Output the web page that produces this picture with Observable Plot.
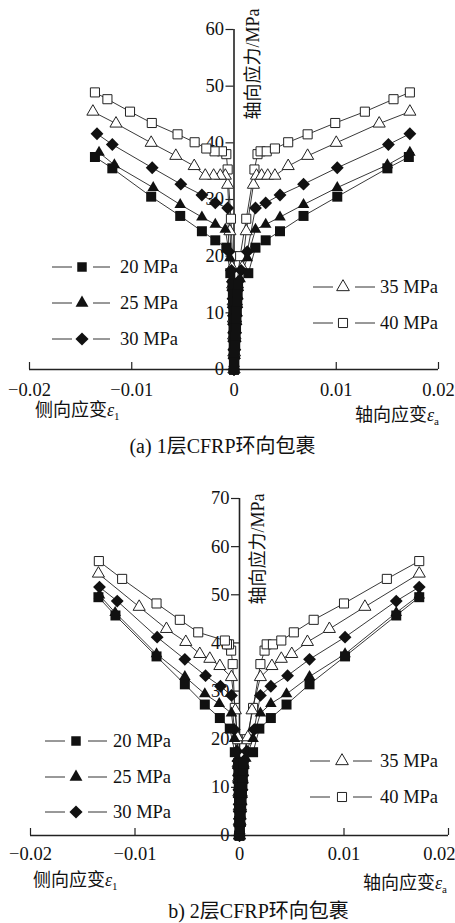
<!DOCTYPE html>
<html>
<head>
<meta charset="utf-8">
<script src="https://cdn.jsdelivr.net/npm/d3@7"></script>
<script src="https://cdn.jsdelivr.net/npm/@observablehq/plot@0.6"></script>
<style>
  html, body { margin: 0; padding: 0; background: #fff; overflow: hidden; }
  #wrap { position: relative; width: 455px; height: 923px; font-family: 'Liberation Serif', 'Noto Sans CJK SC', serif; color: #111; }
  .abs { position: absolute; white-space: nowrap; line-height: 1; }
  .lbl { font-size: 18px; }
  .cap { font-size: 20px; }
  .lbl sub { font-size: 11px; vertical-align: -4px; }
  .eps { font-style: italic; }
  .leg { position: absolute; height: 20px; font-size: 18.5px; line-height: 20px; white-space: nowrap; }
  .leg svg { position: absolute; left: 0; top: 0; }
  .leg span { position: absolute; top: 0; }
</style>
</head>
<body>
<div id="wrap"></div>
<script>
// ---------- data ----------
const seriesNames = ["20 MPa", "25 MPa", "30 MPa", "35 MPa", "40 MPa"];
const xTicks = [-0.02, -0.01, 0, 0.01, 0.02];
const yTicksA = [0, 10, 20, 30, 40, 50, 60];
const yTicksB = [0, 10, 20, 30, 40, 50, 60, 70];

// Panel (a): 1 layer CFRP
const a20_stress = [0, 1.5, 3, 4.5, 6, 7.5, 9, 10.5, 12, 13.5, 15, 17.0, 21.5, 22.8, 24.4, 27.1, 30.5, 35.5, 37.5];
const a20_lat    = [0, -0.00001, -0.00002, -0.00003, -0.00004, -0.00005, -0.00006, -0.00007, -0.00009, -0.00011, -0.00014, -0.00036, -0.00075, -0.00183, -0.00314, -0.00526, -0.0081, -0.0119, -0.0136];
const a20_ax     = [0, 0.00004, 0.00008, 0.00012, 0.00016, 0.0002, 0.00024, 0.00028, 0.00032, 0.00036, 0.0004, 0.0014, 0.0021, 0.0031, 0.0045, 0.0068, 0.0101, 0.015, 0.0171];

const a25_stress = [0, 1, 2.5, 4, 5.5, 7, 8.5, 10, 11.5, 13, 14.5, 16, 19.7, 24.7, 25.6, 26.9, 29.1, 32.1, 36.1, 38.3];
const a25_lat    = [0, -0.00001, -0.00002, -0.00003, -0.00004, -0.00005, -0.00006, -0.00008, -0.0001, -0.00012, -0.00015, -0.0002, -0.0004, -0.00085, -0.00183, -0.00314, -0.00526, -0.0079, -0.0117, -0.0132];
const a25_ax     = [0, 0.00003, 0.00007, 0.00011, 0.00015, 0.00019, 0.00023, 0.00027, 0.00031, 0.00035, 0.0004, 0.0006, 0.0013, 0.0021, 0.0031, 0.0045, 0.0068, 0.0101, 0.015, 0.0172];

const a30_stress = [0, 2, 3.5, 5, 6.5, 8, 9.5, 11, 12.5, 14, 15.5, 17.5, 20.8, 28.5, 29.4, 30.8, 32.7, 35.6, 39.7, 41.6];
const a30_lat    = [0, -0.00001, -0.00002, -0.00003, -0.00004, -0.00005, -0.00006, -0.00008, -0.0001, -0.00012, -0.00015, -0.00025, -0.0005, -0.00062, -0.00183, -0.00314, -0.0052, -0.008, -0.0119, -0.0134];
const a30_ax     = [0, 0.00004, 0.00008, 0.00012, 0.00016, 0.0002, 0.00024, 0.00028, 0.00032, 0.00036, 0.0004, 0.0007, 0.0013, 0.0021, 0.0031, 0.0045, 0.0068, 0.0101, 0.0151, 0.0172];

const a35_stress = [0, 3, 6, 9, 12, 15, 18, 24.4, 32.6, 34.2, 34.2, 34.2, 34.2, 35.9, 37.7, 40.0, 43.4, 45.5];
const a35_lat    = [0, -0.00002, -0.00004, -0.00006, -0.00009, -0.00013, -0.0002, -0.0004, -0.00062, -0.00085, -0.00134, -0.00199, -0.00281, -0.00389, -0.00569, -0.0081, -0.01154, -0.0138];
const a35_ax     = [0, 0.00005, 0.0001, 0.00016, 0.00024, 0.00034, 0.0008, 0.0012, 0.0019, 0.0022, 0.0027, 0.0033, 0.004, 0.0053, 0.0072, 0.01, 0.0142, 0.0172];

const a40_stress = [0, 3, 6, 9, 12, 15, 20, 26.6, 35.3, 38.0, 38.5, 38.5, 39.0, 40.1, 41.5, 43.5, 45.5, 47.7, 48.9];
const a40_lat    = [0, -0.00002, -0.00004, -0.00006, -0.00008, -0.0001, -0.00015, -0.0003, -0.00062, -0.00075, -0.00118, -0.0019, -0.00271, -0.00385, -0.00552, -0.00804, -0.01017, -0.01238, -0.0136];
const a40_ax     = [0, 0.00005, 0.0001, 0.00015, 0.0002, 0.0003, 0.0006, 0.0012, 0.002, 0.0023, 0.0026, 0.0032, 0.004, 0.0053, 0.0072, 0.0099, 0.0128, 0.0156, 0.0172];

// Panel (b): 2 layers CFRP
const b20_stress = [0, 1.5, 3, 4.5, 6, 7.5, 9, 10.5, 12, 13.5, 15, 17.3, 22.2, 24.4, 27.2, 31.4, 37.2, 45.7, 49.5];
const b20_lat    = [0, -0.00001, -0.00002, -0.00003, -0.00004, -0.00005, -0.00006, -0.00007, -0.00009, -0.00011, -0.00014, -0.00045, -0.00093, -0.00188, -0.00332, -0.00523, -0.00794, -0.01187, -0.0135];
const b20_ax     = [0, 0.00004, 0.00008, 0.00012, 0.00016, 0.0002, 0.00024, 0.00028, 0.00032, 0.00036, 0.0004, 0.0013, 0.0019, 0.003, 0.0045, 0.0067, 0.0101, 0.015, 0.0172];

const b25_stress = [0, 1, 2.5, 4, 5.5, 7, 8.5, 10, 11.5, 13, 14.5, 16, 20.1, 25.4, 27.4, 29.4, 33.0, 37.7, 46.3, 49.9];
const b25_lat    = [0, -0.00001, -0.00002, -0.00003, -0.00004, -0.00005, -0.00006, -0.00008, -0.0001, -0.00012, -0.00015, -0.0002, -0.00048, -0.00077, -0.00194, -0.00332, -0.00523, -0.00794, -0.0119, -0.0134];
const b25_ax     = [0, 0.00003, 0.00007, 0.00011, 0.00015, 0.00019, 0.00023, 0.00027, 0.00031, 0.00035, 0.0004, 0.0006, 0.0013, 0.002, 0.003, 0.0045, 0.0067, 0.0101, 0.015, 0.0172];

const b30_stress = [0, 2, 3.5, 5, 6.5, 8, 9.5, 11, 12.5, 14, 15.5, 17.5, 22.0, 29.1, 31.0, 33.2, 36.6, 41.2, 48.7, 51.6];
const b30_lat    = [0, -0.00001, -0.00002, -0.00003, -0.00004, -0.00005, -0.00006, -0.00008, -0.0001, -0.00012, -0.00015, -0.00025, -0.0005, -0.00077, -0.00182, -0.00325, -0.00523, -0.00788, -0.0117, -0.0134];
const b30_ax     = [0, 0.00004, 0.00008, 0.00012, 0.00016, 0.0002, 0.00024, 0.00028, 0.00032, 0.00036, 0.0004, 0.0007, 0.0014, 0.002, 0.003, 0.0046, 0.0067, 0.0101, 0.015, 0.0172];

const b35_stress = [0, 3, 6, 9, 12, 15, 20.4, 26.0, 32.9, 35.2, 36.7, 37.7, 40.2, 42.9, 47.5, 54.4];
const b35_lat    = [0, -0.00002, -0.00004, -0.00006, -0.00009, -0.00013, -0.0002, -0.0004, -0.00077, -0.00188, -0.00284, -0.0038, -0.00514, -0.00699, -0.0096, -0.0135];
const b35_ax     = [0, 0.00005, 0.0001, 0.00016, 0.00024, 0.00034, 0.0008, 0.0012, 0.002, 0.0031, 0.004, 0.005, 0.0065, 0.0086, 0.012, 0.0172];

const b40_stress = [0, 3, 6, 9, 12, 15, 20.0, 26.5, 35.6, 38.4, 39.7, 39.7, 40.5, 42.2, 44.8, 48.2, 53.3, 57.0];
const b40_lat    = [0, -0.00002, -0.00004, -0.00006, -0.00008, -0.0001, -0.0002, -0.00045, -0.00065, -0.0008, -0.001, -0.0012, -0.0014, -0.00395, -0.00571, -0.00794, -0.01123, -0.01346];
const b40_ax     = [0, 0.00005, 0.0001, 0.00015, 0.0002, 0.0003, 0.0007, 0.0013, 0.002, 0.0024, 0.0026, 0.0032, 0.004, 0.0052, 0.0071, 0.01, 0.0141, 0.0172];

// ---------- helpers ----------
function buildRows(list) {
  const out = [];
  for (const [series, stress, lat, ax] of list) {
    for (let i = 0; i < stress.length; i++) out.push({series, branch: "lat", strain: lat[i], stress: stress[i]});
    for (let i = 0; i < stress.length; i++) out.push({series, branch: "ax", strain: ax[i], stress: stress[i]});
  }
  return out;
}
const rowsA = buildRows([
  ["20 MPa", a20_stress, a20_lat, a20_ax], ["25 MPa", a25_stress, a25_lat, a25_ax],
  ["30 MPa", a30_stress, a30_lat, a30_ax], ["35 MPa", a35_stress, a35_lat, a35_ax],
  ["40 MPa", a40_stress, a40_lat, a40_ax]]);
const rowsB = buildRows([
  ["20 MPa", b20_stress, b20_lat, b20_ax], ["25 MPa", b25_stress, b25_lat, b25_ax],
  ["30 MPa", b30_stress, b30_lat, b30_ax], ["35 MPa", b35_stress, b35_lat, b35_ax],
  ["40 MPa", b40_stress, b40_lat, b40_ax]]);

const styles = {
  "20 MPa": {symbol: "square",    d3sym: d3.symbolSquare,    size: 100, legSize: 90,  fill: "#111", stroke: "none"},
  "25 MPa": {symbol: "triangle",  d3sym: d3.symbolTriangle,  size: 58,  legSize: 72,  fill: "#111", stroke: "none"},
  "30 MPa": {symbol: "diamond2",  d3sym: d3.symbolDiamond2,  size: 105, legSize: 110, fill: "#111", stroke: "none"},
  "35 MPa": {symbol: "triangle2", d3sym: d3.symbolTriangle2, size: 105, legSize: 115, fill: "#fff", stroke: "#222"},
  "40 MPa": {symbol: "square2",   d3sym: d3.symbolSquare2,   size: 105, legSize: 105, fill: "#fff", stroke: "#222"}
};
const drawOrder = ["40 MPa", "35 MPa", "30 MPa", "25 MPa", "20 MPa"];
const fmtX = d => d === 0 ? "0" : (d < 0 ? "\u2212" : "") + Math.abs(d).toFixed(2);

function makePlot(rows, cfg) {
  const dots = drawOrder.map(s => {
    const st = styles[s];
    return Plot.dot(rows.filter(d => d.series === s), {
      x: "strain", y: "stress", symbol: st.symbol, r: Math.sqrt(st.size / Math.PI),
      fill: st.fill, stroke: st.stroke, strokeWidth: 1
    });
  });
  const mainTicks = cfg.lastEnd ? xTicks.slice(0, -1) : xTicks;
  return Plot.plot({
    width: 455, height: cfg.height,
    marginLeft: cfg.ml, marginRight: cfg.mr, marginTop: cfg.mt, marginBottom: cfg.mb,
    style: {fontFamily: "'Liberation Serif', 'Noto Sans CJK SC', serif", fontSize: "18.5px", color: "#111", background: "transparent", overflow: "visible"},
    x: {domain: [-0.02, 0.02]},
    y: {domain: [0, cfg.ymax]},
    marks: [
      Plot.axisX({ticks: xTicks, tickFormat: d => mainTicks.includes(d) ? fmtX(d) : "", tickSize: -7, tickPadding: cfg.tp, label: null, stroke: "#222", strokeWidth: 1.2}),
      cfg.lastEnd ? Plot.axisX({ticks: [0.02], tickFormat: fmtX, tickSize: 0, tickPadding: cfg.tp - 7, textAnchor: "end", dx: 7, label: null}) : null,
      Plot.axisY({x: 0, ticks: cfg.yTicks, tickFormat: d => String(d), tickSize: 8, tickPadding: 2, label: null, stroke: "#222", strokeWidth: 1.2}),
      Plot.ruleY([0], {stroke: "#222", strokeWidth: 1.4}),
      Plot.ruleX([0], {stroke: "#222", strokeWidth: 1.6}),
      Plot.text(["轴向应力/MPa"], {x: 0, frameAnchor: "top", text: d => d, rotate: -90, textAnchor: "end", dx: cfg.ydx, dy: cfg.ydy, fontSize: 18}),
      Plot.line(rows, {x: "strain", y: "stress", z: d => d.series + d.branch, stroke: "#222", strokeWidth: 0.9}),
      ...dots
    ]
  });
}

const wrap = document.getElementById("wrap");
function place(node, left, top) {
  const div = document.createElement("div");
  div.style.position = "absolute"; div.style.left = left + "px"; div.style.top = top + "px";
  div.appendChild(node); wrap.appendChild(div);
}
place(makePlot(rowsA, {height: 400, ml: 29, mr: 17, mt: 29, mb: 31, ymax: 60, yTicks: yTicksA, ydx: 12, ydy: -21, tp: 20, lastEnd: false}), 0, 0);
place(makePlot(rowsB, {height: 420, ml: 30, mr: 7, mt: 38, mb: 45, ymax: 70, yTicks: yTicksB, ydx: 12, ydy: -5, tp: 18, lastEnd: true}), 0, 460);

function addHTML(cls, html, left, top, extra) {
  const d = document.createElement("div");
  d.className = "abs " + cls; d.innerHTML = html;
  d.style.left = left + "px"; d.style.top = top + "px";
  if (extra) Object.assign(d.style, extra);
  wrap.appendChild(d);
  return d;
}
const latLabel = '侧向应变<span class="eps">ε</span><sub>1</sub>';
const axLabel = '轴向应变<span class="eps">ε</span><sub>a</sub>';
addHTML("lbl", latLabel, 35, 401);
addHTML("lbl", axLabel, 355, 406);
addHTML("cap", "(a) 1层CFRP环向包裹", 0, 436, {width: "445px", textAlign: "center"});
addHTML("lbl", latLabel, 33, 871);
addHTML("lbl", axLabel, 363, 874);
addHTML("cap", "b) 2层CFRP环向包裹", 0, 901, {width: "517px", textAlign: "center"});

// legends
function legendItem(series, left, cy, l1, mk, l2, tx) {
  const st = styles[series];
  const d = document.createElement("div");
  d.className = "leg"; d.style.left = left + "px"; d.style.top = (cy - 10) + "px";
  const ns = "http://www.w3.org/2000/svg";
  const svg = document.createElementNS(ns, "svg");
  svg.setAttribute("width", 70); svg.setAttribute("height", 20);
  const mkLine = (x1, x2) => { const l = document.createElementNS(ns, "line");
    l.setAttribute("x1", x1); l.setAttribute("x2", x2); l.setAttribute("y1", 10); l.setAttribute("y2", 10);
    l.setAttribute("stroke", "#333"); l.setAttribute("stroke-width", 1); svg.appendChild(l); };
  mkLine(l1[0] - left, l1[1] - left); mkLine(l2[0] - left, l2[1] - left);
  const p = document.createElementNS(ns, "path");
  p.setAttribute("d", d3.symbol(st.d3sym, st.legSize)());
  p.setAttribute("transform", `translate(${mk - left},10)`);
  p.setAttribute("fill", st.fill); p.setAttribute("stroke", st.stroke);
  svg.appendChild(p);
  d.appendChild(svg);
  const s = document.createElement("span"); s.textContent = series; s.style.left = (tx - left) + "px";
  d.appendChild(s);
  wrap.appendChild(d);
}
// panel a
legendItem("20 MPa", 52, 267, [52, 72], 82, [93, 110], 120);
legendItem("25 MPa", 52, 303, [52, 72], 82, [93, 110], 120);
legendItem("30 MPa", 52, 339, [52, 72], 82, [93, 110], 120);
legendItem("35 MPa", 313, 287, [313, 333], 343, [355, 375], 380);
legendItem("40 MPa", 313, 323, [313, 333], 343, [355, 375], 380);
// panel b
legendItem("20 MPa", 45, 741, [45, 65], 76, [88, 107], 113);
legendItem("25 MPa", 45, 777, [45, 65], 76, [88, 107], 113);
legendItem("30 MPa", 45, 812, [45, 65], 76, [88, 107], 113);
legendItem("35 MPa", 310, 761, [310, 330], 342, [353, 372], 380);
legendItem("40 MPa", 310, 797, [310, 330], 342, [353, 372], 380);
</script>
</body>
</html>
